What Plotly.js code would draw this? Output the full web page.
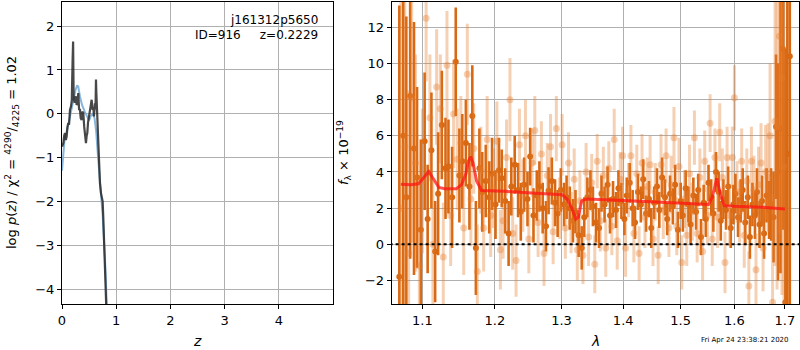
<!DOCTYPE html>
<html><head><meta charset="utf-8">
<script src="https://cdn.plot.ly/plotly-3.0.1.min.js"></script>
<style>html,body{margin:0;padding:0;background:#fff}#chart{width:800px;height:350px}</style>
</head><body><div id="chart"></div>
<script>
// ---- left panel: log p(z) ----
const zDark = [0,0.025,0.04,0.055,0.07,0.086,0.10,0.117,0.13,0.147,0.166,0.18,0.195,0.205,0.215,0.221,0.235,0.258,0.27,0.283,0.301,0.315,0.332,0.345,0.363,0.375,0.393,0.41,0.424,0.442,0.455,0.467,0.48,0.498,0.515,0.529,0.547,0.565,0.578,0.59,0.608,0.618,0.627,0.633,0.639,0.658,0.676,0.69,0.70,0.719,0.737,0.75,0.761,0.787,0.811,0.83];
const pDark = [-0.75,-0.67,-0.5,-0.44,-0.6,-0.52,-0.3,-0.21,-0.25,0.09,0.17,0.3,1.2,1.65,0.35,0.32,0.25,0.40,0.2,0.24,0.47,0.1,0.09,-0.1,-0.14,0.05,0.02,-0.3,-0.44,-0.67,-0.5,-0.44,-0.2,-0.06,0.1,0.17,0.32,0.09,0.15,-0.06,0.24,0.1,0.78,0.5,0.32,-0.44,-1.05,-1.3,-1.58,-1.81,-1.96,-2.0,-2.34,-3.49,-4.32,-4.9];
const zBlue = [0,0.02,0.05,0.1,0.15,0.2,0.25,0.28,0.30,0.33,0.37,0.42,0.47,0.5,0.53,0.57,0.6,0.63,0.66,0.7,0.75,0.8,0.83];
const pBlue = [-1.3,-0.9,-0.55,-0.35,-0.05,0.3,0.55,0.65,0.62,0.4,0.2,0.05,-0.1,-0.15,-0.05,0.0,-0.1,-0.4,-0.9,-1.5,-2.3,-3.5,-4.5];

// ---- right panel: spectrum ----
const lamD = [1.070,1.075,1.079,1.084,1.089,1.093,1.098,1.103,1.107,1.112,
1.117,1.121,1.126,1.131,1.135,1.140,1.145,1.150,1.154,1.159,
1.164,1.168,1.173,1.178,1.182,1.187,1.192,1.196,1.201,1.206,
1.210,1.215,1.220,1.224,1.229,1.234,1.238,1.243,1.248,1.252,
1.257,1.262,1.266,1.271,1.276,1.280,1.285,1.290,1.294,1.299,
1.304,1.308,1.313,1.318,1.322,1.327,1.332,1.336,1.341,1.346,
1.350,1.355,1.360,1.364,1.369,1.374,1.378,1.383,1.388,1.392,
1.397,1.402,1.406,1.411,1.416,1.420,1.425,1.430,1.434,1.439,
1.444,1.448,1.453,1.458,1.462,1.467,1.472,1.476,1.481,1.486,
1.490,1.495,1.500,1.504,1.509,1.514,1.518,1.523,1.528,1.532,
1.537,1.542,1.546,1.551,1.556,1.560,1.565,1.570,1.574,1.579,
1.584,1.588,1.593,1.598,1.602,1.607,1.612,1.616,1.621,1.626,
1.630,1.635,1.640,1.644,1.649,1.654,1.658,1.663,1.668,1.672,
1.677,1.682,1.686,1.691,1.696,1.701,1.705,1.710];
const fluxD = [-1.8,6.0,2.6,8.2,5.3,3.7,0.8,5.7,1.4,5.2,
-0.4,2.8,6.6,4.2,4.3,2.6,10.1,3.8,4.6,5.6,
3.2,7.1,-0.2,4.2,2.9,3.5,2.6,3.9,2.2,4.1,
3.65,2.4,0.6,3.2,4.4,3.0,1.8,3.3,2.5,4.85,
1.6,2.7,3.2,2.0,1.0,2.96,3.5,2.3,1.7,3.0,
2.2,2.6,2.0,1.3,1.8,0.5,-0.2,1.5,2.6,3.0,
2.1,1.2,0.9,2.8,2.2,3.3,1.6,2.5,1.9,3.1,
2.4,1.4,2.7,3.4,2.0,1.2,2.9,2.2,3.6,1.7,
2.5,0.9,2.3,3.2,1.9,3.7,2.6,1.4,2.8,2.1,
3.3,0.8,2.4,1.6,3.1,2.2,1.1,2.7,1.8,3.0,
0.4,2.3,1.4,3.4,2.6,1.7,4.0,2.9,1.3,2.5,
1.9,3.2,0.9,2.2,2.8,1.5,2.4,3.0,1.2,2.6,
0.4,2.2,1.6,2.9,1.1,2.4,0.6,2.7,1.9,2.2,
1.5,6.5,4.0,6.4,10.8,-3.2,5.0,10.4];
const errD = [15,12,10,9,7,5,5,3.8,3.0,3.2,
2.8,3.4,3.0,2.8,2.6,2.8,3.0,2.6,2.6,2.4,
2.4,2.8,2.6,2.2,2.2,2.0,2.0,2.0,1.9,1.8,
1.6,1.8,1.8,1.6,1.6,1.5,1.6,1.5,1.5,1.6,
1.5,1.4,1.4,1.4,1.4,1.3,1.3,1.3,1.3,1.2,
1.2,1.2,1.2,1.2,1.2,1.2,1.2,1.1,1.1,1.1,
1.1,1.1,1.1,1.0,1.0,1.0,1.0,1.0,1.0,1.0,
1.0,0.9,1.0,1.1,1.0,0.9,1.0,1.0,1.1,1.0,
1.0,1.1,0.9,1.0,1.0,1.1,1.0,0.9,1.0,1.0,
1.1,1.0,1.0,0.9,1.0,1.0,1.1,1.0,1.0,0.9,
1.0,1.0,1.0,1.0,1.0,1.0,1.1,1.1,1.1,1.1,
1.1,1.1,1.1,1.1,1.1,1.1,1.2,1.2,1.2,1.2,
1.2,1.2,1.3,1.3,1.3,1.4,1.4,1.5,1.6,2.0,
2.5,4,6,8,10,14,16,16];

const lamL = [1.072,1.077,1.082,1.086,1.091,1.096,1.100,1.105,1.110,1.114,
1.119,1.124,1.128,1.133,1.138,1.142,1.147,1.152,1.156,1.161,
1.166,1.170,1.175,1.180,1.184,1.189,1.194,1.198,1.203,1.208,
1.212,1.217,1.222,1.226,1.231,1.236,1.241,1.245,1.250,1.255,
1.259,1.264,1.269,1.273,1.278,1.283,1.287,1.292,1.297,1.301,
1.306,1.311,1.315,1.320,1.325,1.329,1.334,1.339,1.343,1.348,
1.353,1.357,1.362,1.367,1.371,1.376,1.381,1.385,1.390,1.395,
1.399,1.404,1.409,1.413,1.418,1.423,1.427,1.432,1.437,1.441,
1.446,1.451,1.455,1.460,1.465,1.469,1.474,1.479,1.483,1.488,
1.493,1.497,1.502,1.507,1.511,1.516,1.521,1.525,1.530,1.535,
1.540,1.544,1.549,1.554,1.558,1.563,1.568,1.572,1.577,1.582,
1.586,1.591,1.596,1.600,1.605,1.610,1.614,1.619,1.624,1.628,
1.633,1.638,1.642,1.647,1.652,1.656,1.661,1.666,1.670,1.675,
1.680,1.684,1.689,1.694,1.698];
const fluxL = [2.0,5.4,-0.5,8.1,4.5,-1.2,3.5,12.5,7.0,0.0,
8.7,7.5,-0.7,9.9,1.6,7.2,4.7,5.6,0.9,9.4,
2.5,5.3,-1.5,4.1,0.9,5.8,1.6,3.1,5.7,-0.3,
1.3,4.8,8.0,0.6,-0.9,5.5,2.7,6.0,0.3,4.5,
6.3,1.2,5.0,-0.5,3.8,5.4,0.7,6.4,2.0,5.5,
0.9,4.5,1.2,3.6,-0.3,2.4,-0.6,4.0,0.4,3.4,
-1.1,4.6,1.3,3.8,-0.2,4.2,1.0,5.8,0.2,3.6,
4.9,-0.2,3.0,4.9,0.6,3.9,-0.5,4.5,1.5,3.2,
4.4,0.3,2.9,-0.6,4.4,1.9,4.9,0.9,3.3,5.9,
1.0,4.3,-1.0,2.5,0.5,3.9,1.8,5.9,0.6,3.7,
-0.4,4.6,1.6,6.7,0.3,4.8,1.5,6.2,3.7,-1.0,
4.8,1.6,4.8,8.1,2.9,1.8,4.6,0.5,3.5,-2.3,
4.6,3.0,-1.4,3.3,4.5,-0.2,4.0,3.7,6.0,-3.2,
6.8,6.5,11.5,9.2,4.3];
const errL = [12,10,9,8,6,5,4,3.5,3.5,3.5,
3.2,3.0,3.0,3.0,2.8,3.0,2.8,2.6,2.6,2.8,
2.6,2.5,2.6,2.4,2.4,2.4,2.3,2.2,2.2,2.2,
2.1,2.1,2.3,2.0,2.0,2.0,2.0,2.0,1.9,1.9,
1.9,1.9,1.8,1.8,1.8,1.8,1.8,1.8,1.7,1.7,
1.7,1.7,1.7,1.7,1.7,1.7,1.6,1.6,1.6,1.6,
1.6,1.5,1.7,1.6,1.6,1.5,1.6,1.7,1.6,1.5,
1.6,1.6,1.5,1.7,1.6,1.6,1.5,1.6,1.7,1.6,
1.6,1.5,1.6,1.6,1.7,1.6,1.5,1.6,1.6,1.7,
1.6,1.6,1.5,1.6,1.7,1.6,1.6,1.5,1.6,1.6,
1.6,1.7,1.6,1.6,1.5,1.6,1.7,1.6,1.6,1.7,
1.7,1.7,1.7,1.8,1.7,1.7,1.8,1.8,1.8,1.9,
1.9,1.9,2.0,2.1,2.2,2.4,2.6,3,4,6,
8,9,11,12,14];

const lamModel = [1.072,1.085,1.095,1.102,1.1085,1.115,1.122,1.130,1.146,1.153,1.159,1.1625,1.1657,1.169,1.174,1.181,1.200,1.215,1.248,1.280,1.301,1.309,1.316,1.3228,1.3265,1.3318,1.340,1.400,1.450,1.500,1.551,1.558,1.5665,1.573,1.5807,1.600,1.655,1.700];
const fluxModel = [3.32,3.3,3.35,3.7,4.02,3.6,3.15,3.08,3.08,3.3,3.9,4.6,4.85,4.5,3.5,2.98,2.97,2.93,2.85,2.8,2.74,2.5,2.0,1.4,1.5,2.4,2.5,2.43,2.36,2.28,2.2,2.6,3.65,2.8,2.13,2.1,2.05,1.95];
const zeroLam = [1.05,1.73];
const zeroVal = [0,0];

const leftXTicks = [0,1,2,3,4];
const leftYTicks = [-4,-3,-2,-1,0,1,2];
const rightXTicks = [1.1,1.2,1.3,1.4,1.5,1.6,1.7];
const rightXText = ['1.1','1.2','1.3','1.4','1.5','1.6','1.7'];
const rightYTicks = [-2,0,2,4,6,8,10,12];

const DARK = 'rgb(217,104,18)';
const LIGHT = 'rgba(230,125,45,0.36)';

const traces = [
  {x: zBlue, y: pBlue, xaxis:'x', yaxis:'y', mode:'lines', line:{color:'#86b6dd', width:2}, hoverinfo:'skip'},
  {x: zDark, y: pDark, xaxis:'x', yaxis:'y', mode:'lines', line:{color:'rgba(40,40,40,0.85)', width:2.2}, hoverinfo:'skip'},
  {x: lamD, y: fluxD, xaxis:'x2', yaxis:'y2', mode:'markers', marker:{color:DARK, size:6},
   error_y:{type:'data', array: errD, visible:true, thickness:2.6, width:0, color:DARK}, cliponaxis:true},
  {x: lamL, y: fluxL, xaxis:'x2', yaxis:'y2', mode:'markers', marker:{color:LIGHT, size:7},
   error_y:{type:'data', array: errL, visible:true, thickness:3, width:0, color:LIGHT}, cliponaxis:true},
  {x: lamModel, y: fluxModel, xaxis:'x2', yaxis:'y2', mode:'lines', line:{color:'rgba(255,20,20,0.75)', width:3}},
  {x: zeroLam, y: zeroVal, xaxis:'x2', yaxis:'y2', mode:'lines', line:{color:'#000', width:2, dash:'dot'}}
];

const W = 737, H = 302, L = 62, T = 2;
const px = v => (v - L) / W;
const py = v => (T + H - v) / H;
const font = {family:'DejaVu Sans', size:13, color:'#000'};
const axBase = {showline:true, mirror:true, linecolor:'#000', linewidth:1, ticks:'outside', ticklen:4, tickcolor:'#000',
  showgrid:true, gridcolor:'#b0b0b0', gridwidth:1, zeroline:false, tickfont:font};

const layout = {
  width:800, height:350, margin:{l:L, r:1, t:T, b:46}, showlegend:false,
  paper_bgcolor:'#fff', plot_bgcolor:'#fff', font: font,
  xaxis: Object.assign({}, axBase, {domain:[0, (333-62)/W], range:[0, 5.0], tickvals:leftXTicks, anchor:'y'}),
  yaxis: Object.assign({}, axBase, {domain:[0,1], range:[-4.34, 2.55], tickvals:leftYTicks, anchor:'x',
    tickformat:'d'}),
  xaxis2: Object.assign({}, axBase, {domain:[(391.7-62)/W, 1], type:'log', range:[0.0254, 0.2378], tickvals:rightXTicks, ticktext:rightXText, anchor:'y2'}),
  yaxis2: Object.assign({}, axBase, {domain:[0,1], range:[-3.3, 13.4], tickvals:rightYTicks, anchor:'x2'}),
  annotations: [
    {xref:'paper', yref:'paper', x:px(320), y:py(20), xanchor:'right', yanchor:'middle', showarrow:false, text:'j161312p5650', font:{family:'DejaVu Sans', size:12, color:'#000'}},
    {xref:'paper', yref:'paper', x:px(320), y:py(35), xanchor:'right', yanchor:'middle', showarrow:false, text:'ID=916&nbsp;&nbsp;&nbsp;&nbsp;&nbsp;z=0.2229', font:{family:'DejaVu Sans', size:12, color:'#000'}},
    {xref:'paper', yref:'paper', x:px(12), y:py(153), xanchor:'center', yanchor:'middle', textangle:-90, showarrow:false,
      text:'log <i>p</i>(<i>z</i>) / χ<sup>2</sup> = <sup>4290</sup>/<sub>4225</sub> = 1.02', font:{family:'DejaVu Sans', size:13, color:'#000'}},
    {xref:'paper', yref:'paper', x:px(197), y:py(341), xanchor:'center', yanchor:'middle', showarrow:false, text:'<i>z</i>', font:{family:'DejaVu Sans', size:14, color:'#000'}},
    {xref:'paper', yref:'paper', x:px(344), y:py(153), xanchor:'center', yanchor:'middle', textangle:-90, showarrow:false,
      text:'<i>f</i><sub>λ</sub> × 10<sup>−19</sup>', font:{family:'DejaVu Sans', size:13, color:'#000'}},
    {xref:'paper', yref:'paper', x:px(595), y:py(341), xanchor:'center', yanchor:'middle', showarrow:false, text:'<i>λ</i>', font:{family:'DejaVu Sans', size:14, color:'#000'}},
    {xref:'paper', yref:'paper', x:px(745), y:py(340), xanchor:'center', yanchor:'middle', showarrow:false, text:'Fri Apr 24 23:38:21 2020', font:{family:'DejaVu Sans', size:7, color:'#000'}}
  ]
};

Plotly.newPlot('chart', traces, layout, {staticPlot:true, displayModeBar:false});
</script>
</body></html>
